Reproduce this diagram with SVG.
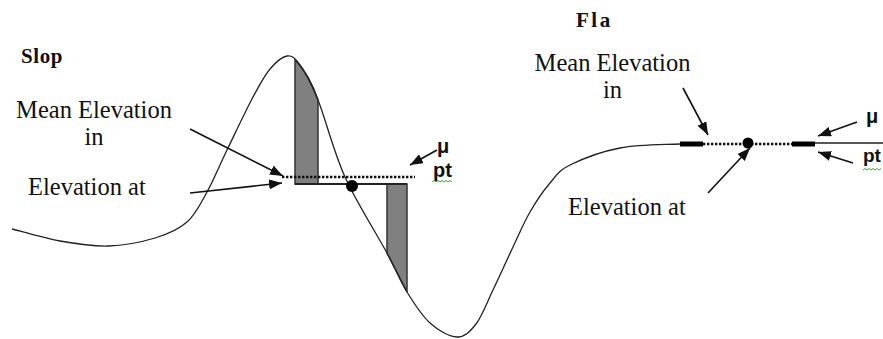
<svg xmlns="http://www.w3.org/2000/svg" width="883" height="339" viewBox="0 0 883 339">
<style>
.lbl{font-family:"Liberation Serif","Times New Roman",serif;font-size:24.5px;fill:#111}
.ttl{font-family:"Liberation Serif","Times New Roman",serif;font-size:21px;font-weight:bold;fill:#111}
.sym{font-family:"Liberation Sans",Arial,sans-serif;font-size:20px;font-weight:bold;fill:#111}
.curve{fill:none;stroke:#222;stroke-width:1.3}
.arr{fill:none;stroke:#111;stroke-width:1.6;marker-end:url(#ah)}
.shade{fill:#808080;stroke:#333;stroke-width:1.5}
.dots{stroke:#111;stroke-width:2.6;stroke-dasharray:2.4 1.6}
.sq{fill:none;stroke:#3a3;stroke-width:1}
</style>
<defs>
<marker id="ah" markerUnits="userSpaceOnUse" markerWidth="14" markerHeight="10" refX="13" refY="5" orient="auto">
<path d="M0,0 L13,5 L0,10 Z" fill="#111"/>
</marker>
</defs>
<rect width="883" height="339" fill="#fff"/>

<g id="terrain">
<path id="shade-1" class="shade" d="M295,60 Q309.5,74.5 318,100 L318,184 L295,184 Z"/>
<path id="shade-2" class="shade" d="M387,184 L407,184 L407,292 L387,253 Z"/>
<path class="curve" d="M12,229 C20,231 44,238.2 60,241 C76,243.8 92.2,246.5 108,246 C123.8,245.5 141.8,242 155,238 C168.2,234 178.3,229.7 187,222 C195.7,214.3 200.3,204 207,192 C213.7,180 219.3,165.8 227,150 C234.7,134.2 245.8,110.5 253,97 C260.2,83.5 264.3,75.8 270,69 C275.7,62.2 282,56.7 287,56 C292,55.3 294.8,57.7 300,65 C305.2,72.3 310.5,81.3 318,100 C325.5,118.7 333.5,151.5 345,177 C356.5,202.5 376.7,233.8 387,253 C397.3,272.2 399.8,280.3 407,292 C414.2,303.7 421.7,315.5 430,323 C438.3,330.5 449.3,336.8 457,337 C464.7,337.2 470,331.8 476,324 C482,316.2 486.8,302.8 493,290 C499.2,277.2 506.8,260 513,247 C519.2,234 523.8,222.7 530,212 C536.2,201.3 543.3,190.8 550,183 C556.7,175.2 558.3,170.8 570,165 C581.7,159.2 601.7,151.5 620,148 C638.3,144.5 660,144.8 680,144"/>
<line class="curve" x1="815" y1="143" x2="883" y2="143"/>
</g>

<g id="slope-marks">
<line class="dots" x1="282" y1="177" x2="415" y2="177"/>
<line x1="295" y1="184" x2="407" y2="184" stroke="#222" stroke-width="1.8"/>
<circle cx="352" cy="186" r="6" fill="#000"/>
</g>

<g id="flat-marks">
<line x1="680" y1="144" x2="703" y2="144" stroke="#000" stroke-width="5"/>
<line class="dots" x1="703" y1="144" x2="792" y2="144" stroke-width="3"/>
<line x1="792" y1="144" x2="815" y2="144" stroke="#000" stroke-width="5"/>
<circle cx="748" cy="143" r="5.5" fill="#000"/>
</g>

<g id="connectors">
<line class="arr" x1="190" y1="129" x2="283" y2="176"/>
<line class="arr" x1="190" y1="193" x2="282" y2="183"/>
<line class="arr" x1="437" y1="150" x2="410" y2="165"/>
<line class="arr" x1="683" y1="88" x2="708" y2="135"/>
<line class="arr" x1="708" y1="193" x2="750" y2="148"/>
<line class="arr" x1="857" y1="122" x2="818" y2="136"/>
<line class="arr" x1="853" y1="163" x2="818" y2="152"/>
</g>

<g id="slope-labels">
<text class="ttl" x="21" y="63" letter-spacing="0.6">Slop</text>
<text class="lbl" x="94" y="118" text-anchor="middle">Mean Elevation</text>
<text class="lbl" x="94" y="145" text-anchor="middle">in</text>
<text class="lbl" x="28" y="195">Elevation at</text>
<text class="sym" x="437" y="153">μ</text>
<text class="sym" x="433" y="177">pt</text>
<path class="sq" d="M432,182 l2,-1.5 l2,1.5 l2,-1.5 l2,1.5 l2,-1.5 l2,1.5 l2,-1.5 l2,1.5 l2,-1.5 l2,1.5"/>
</g>

<g id="flat-labels">
<text class="ttl" x="576" y="27" letter-spacing="2.5">Fla</text>
<text class="lbl" x="612.5" y="71" text-anchor="middle">Mean Elevation</text>
<text class="lbl" x="612.5" y="98" text-anchor="middle">in</text>
<text class="lbl" x="568" y="215">Elevation at</text>
<text class="sym" x="866" y="123">μ</text>
<text class="sym" x="863" y="162" style="font-size:19px">pt</text>
<path class="sq" d="M863,170 l2,-1.5 l2,1.5 l2,-1.5 l2,1.5 l2,-1.5 l2,1.5 l2,-1.5 l2,1.5 l2,-1.5"/>
</g>
</svg>
